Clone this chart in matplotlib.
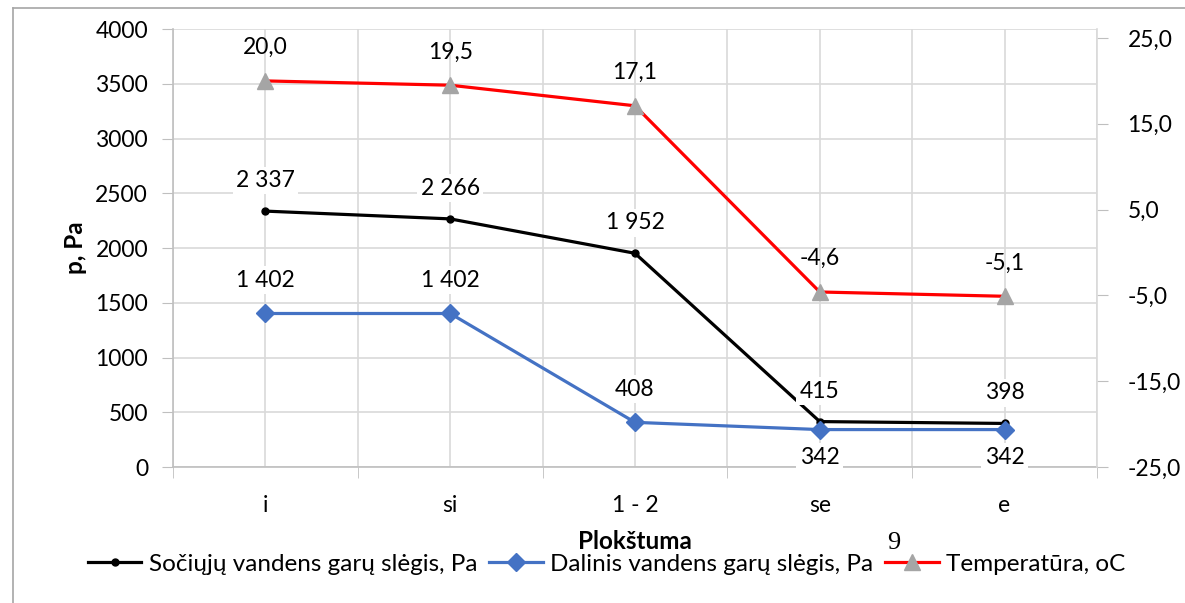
import matplotlib
matplotlib.use("Agg")
import matplotlib.pyplot as plt
from matplotlib.lines import Line2D
from matplotlib.ticker import MultipleLocator, FuncFormatter, FixedLocator

# data
categories = ["i", "si", "1 - 2", "se", "e"]
p_sat = [2337, 2266, 1952, 415, 398]        # Sočiųjų vandens garų slėgis, Pa
p_part = [1402, 1402, 408, 342, 342]        # Dalinis vandens garų slėgis, Pa
temp = [20.0, 19.5, 17.1, -4.6, -5.1]       # Temperatūra, oC
part_below = [False, False, False, True, True]  # where the blue label sits under the point

plt.rcParams["font.family"] = ["Lato", "DejaVu Sans"]
FS = 16.5
FS_LEG = 17.5

def thou(v):
    return f"{v:,.0f}".replace(",", " ")

def dec(v):
    return f"{v:.1f}".replace(".", ",")

fig = plt.figure(figsize=(11.85, 6.03), dpi=100)
ax = fig.add_axes([0.146, 0.2255, 0.9257 - 0.146, 0.9519 - 0.2255])
ax2 = ax.twinx()

x = list(range(len(categories)))
grid_c = "#d9d9d9"
spine_c = "#bfbfbf"

# left axis
ax.set_xlim(-0.5, len(categories) - 0.5)
ax.set_ylim(0, 4000)
ax.yaxis.set_major_locator(MultipleLocator(500))
ax.set_xticks(x)
ax.set_xticklabels(categories, fontsize=FS)
ax.xaxis.set_minor_locator(FixedLocator([i - 0.5 for i in range(len(categories) + 1)]))
ax.tick_params(axis="x", which="major", length=0, pad=20)
ax.tick_params(axis="x", which="minor", length=8, color=spine_c, direction="out")
ax.tick_params(axis="y", length=8, color=spine_c, labelsize=FS, pad=10)
ax.grid(True, axis="y", color=grid_c, lw=1.2)
ax.grid(True, axis="x", which="both", color=grid_c, lw=1.2)
ax.set_axisbelow(True)
for s in ["top", "right"]:
    ax.spines[s].set_visible(False)
for s in ["left", "bottom"]:
    ax.spines[s].set_color(spine_c)
    ax.spines[s].set_linewidth(1.2)
ax.set_ylabel("p, Pa", fontsize=FS_LEG, fontweight="bold", labelpad=6)
ax.set_xlabel("Plokštuma", fontsize=FS_LEG, fontweight="bold", labelpad=10)

# right axis
ax2.set_ylim(-25, 26.05)
ax2.set_yticks([-25, -15, -5, 5, 15, 25])
ax2.yaxis.set_major_formatter(FuncFormatter(lambda v, _: dec(v)))
ax2.tick_params(axis="y", length=8, color=spine_c, labelsize=FS, pad=14)
for s in ["top", "left", "bottom"]:
    ax2.spines[s].set_visible(False)
ax2.spines["right"].set_color(grid_c)
ax2.spines["right"].set_linewidth(1.2)

# series
ax.plot(x, p_sat, color="black", lw=2.3, marker="o", ms=5, zorder=3)
ax.plot(x, p_part, color="#4472c4", lw=2.3, marker="D", ms=9, zorder=3)
ax2.plot(x, temp, color="red", lw=2.3, marker="^", ms=11,
         mfc="#a5a5a5", mec="#a5a5a5", zorder=3)

box = dict(boxstyle="square,pad=0.15", fc="white", ec="none")
for xi, v in zip(x, p_sat):
    ax.annotate(thou(v), (xi, v), xytext=(0, 22), textcoords="offset points",
                ha="center", va="center", fontsize=FS, bbox=box, zorder=5)
for xi, v, below in zip(x, p_part, part_below):
    off = -20 if below else 24
    ax.annotate(thou(v), (xi, v), xytext=(0, off), textcoords="offset points",
                ha="center", va="center", fontsize=FS, bbox=box, zorder=5)
for xi, v in zip(x, temp):
    ax2.annotate(dec(v), (xi, v), xytext=(0, 24), textcoords="offset points",
                 ha="center", va="center", fontsize=FS, zorder=5)

# legend
h1 = Line2D([], [], color="black", lw=2.3, marker="o", ms=5)
h2 = Line2D([], [], color="#4472c4", lw=2.3, marker="D", ms=9)
h3 = Line2D([], [], color="red", lw=2.3, marker="^", ms=11, mfc="#a5a5a5", mec="#a5a5a5")
fig.legend([h1, h2, h3],
           ["Sočiųjų vandens garų slėgis, Pa", "Dalinis vandens garų slėgis, Pa",
            "Temperatūra, oC"],
           loc="center", bbox_to_anchor=(0.512, 0.064), ncol=3, frameon=False,
           fontsize=FS_LEG, handlelength=2.2, handletextpad=0.3, columnspacing=0.5)

# page number that sits on the figure
fig.text(894 / 1185, 1 - 543 / 603, "9", fontsize=19, family="Liberation Serif",
         ha="center", va="center")

# outer frame
fig.add_artist(Line2D([13 / 1185, 1], [1 - 8 / 603, 1 - 8 / 603], color="#a6a6a6", lw=1.2))
fig.add_artist(Line2D([13 / 1185, 13 / 1185], [0, 1 - 8 / 603], color="#a6a6a6", lw=1.2))

fig.savefig("out.png", dpi=100)
